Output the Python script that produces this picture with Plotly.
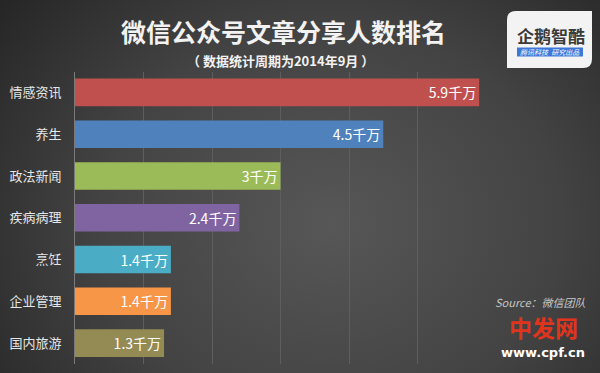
import plotly.graph_objects as go

categories = ["情感资讯", "养生", "政法新闻", "疾病病理", "烹饪", "企业管理", "国内旅游"]
values = [5.9, 4.5, 3.0, 2.4, 1.4, 1.4, 1.3]
value_labels = ["5.9千万", "4.5千万", "3千万", "2.4千万", "1.4千万", "1.4千万", "1.3千万"]
bar_colors = ["#c0504d", "#4f81bd", "#9bbb59", "#8064a2", "#4bacc6", "#f79646", "#948a54"]

W, H = 600, 373
def px(x):
    return x / W
def py(y):
    return 1 - y / H

FONT = "Noto Sans CJK SC"

fig = go.Figure()

# background radial gradient on a full-paper subplot
fig.add_trace(go.Scatter(
    x=[-0.15, 1.25, 1.25, -0.15, -0.15],
    y=[-0.55, -0.55, 1.35, 1.35, -0.55],
    mode="lines", fill="toself", line=dict(width=0),
    fillgradient=dict(type="radial",
                      colorscale=[[0, "#575757"], [0.55, "#434343"], [1, "#262626"]]),
    hoverinfo="skip", showlegend=False,
    xaxis="x", yaxis="y",
))

fig.add_trace(go.Bar(
    y=categories, x=values, orientation="h",
    marker=dict(color=bar_colors, line=dict(width=0)),
    text=value_labels, textposition="inside", insidetextanchor="end",
    textfont=dict(color="#ffffff", size=14, family=FONT),
    cliponaxis=False,
    xaxis="x2", yaxis="y2", showlegend=False,
))

fig.update_layout(
    width=W, height=H,
    margin=dict(l=0, r=0, t=0, b=0),
    paper_bgcolor="#333333",
    plot_bgcolor="rgba(0,0,0,0)",
    bargap=0.34,
    xaxis=dict(domain=[0, 1], range=[0, 1], visible=False, fixedrange=True),
    yaxis=dict(domain=[0, 1], range=[0, 1], visible=False, fixedrange=True),
    xaxis2=dict(domain=[px(75), px(486)], range=[0, 6], dtick=1,
                showgrid=True, gridcolor="#5e5e5e", gridwidth=1,
                showticklabels=False, zeroline=False, showline=False,
                anchor="y2"),
    yaxis2=dict(domain=[py(364), py(71.5)], autorange="reversed",
                showline=True, linecolor="#7a7a7a", linewidth=1,
                ticks="", ticklabelstandoff=10,
                tickfont=dict(color="#e6e6e6", size=13, family=FONT),
                anchor="x2"),
    font=dict(family=FONT),
)

annotations = [
    dict(text="<b>微信公众号文章分享人数排名</b>", x=px(283), y=py(31),
         font=dict(size=25, color="#f2f2f2", family=FONT)),
    dict(text="<b>（ 数据统计周期为2014年9月 ）</b>", x=px(280), y=py(60),
         font=dict(size=13, color="#f2f2f2", family=FONT)),
    dict(text="<b>企鹅智酷</b>", x=px(551), y=py(36),
         font=dict(size=17, color="#3a3a3a", family=FONT)),
    dict(text="<i>腾讯科技  研究出品</i>", x=px(550), y=py(52),
         font=dict(size=7, color="#ffffff", family=FONT)),
    dict(text="<i>Source：微信团队</i>", x=px(540), y=py(302),
         font=dict(size=11, color="#c8c8c8", family=FONT)),
    dict(text="<b>中发网</b>", x=px(543), y=py(327),
         font=dict(size=23, color="#e0341e", family=FONT)),
    dict(text="<b>www.cpf.cn</b>", x=px(543), y=py(352),
         font=dict(size=13, color="#ffffff", family="DejaVu Sans")),
]
for a in annotations:
    a.update(xref="paper", yref="paper", showarrow=False, xanchor="center", yanchor="middle")
fig.update_layout(annotations=annotations)

# logo box with rounded top-left and bottom-right corners
x0, x1, y0, y1, r = 507, 592, 11, 68, 9
path = (f"M {px(x0)},{py(y0 + r)} Q {px(x0)},{py(y0)} {px(x0 + r)},{py(y0)} "
        f"L {px(x1)},{py(y0)} L {px(x1)},{py(y1 - r)} "
        f"Q {px(x1)},{py(y1)} {px(x1 - r)},{py(y1)} L {px(x0)},{py(y1)} Z")
fig.add_shape(type="path", path=path, xref="paper", yref="paper",
              fillcolor="#f3f3f3", line=dict(width=0), layer="above")
fig.add_shape(type="rect", x0=px(517), x1=px(583), y0=py(56.5), y1=py(47.5),
              xref="paper", yref="paper", fillcolor="#3d78d8", line=dict(width=0), layer="above")

fig.write_html("out.html")
